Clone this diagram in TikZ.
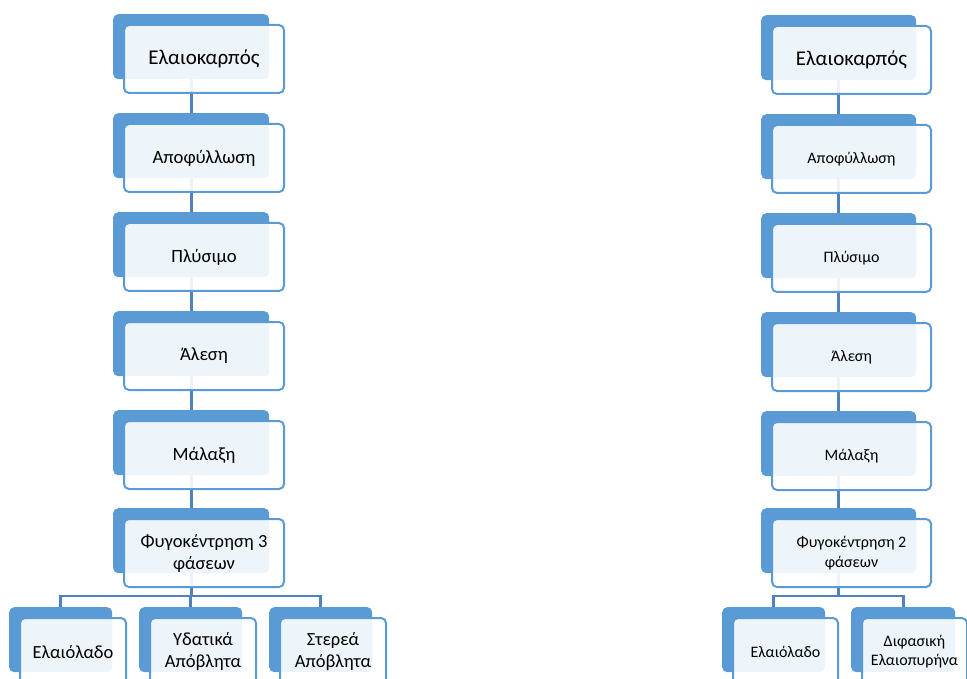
\documentclass[tikz,border=0pt]{standalone}
\usepackage{fontspec}
\setmainfont{Carlito}
\pgfdeclarelayer{back}
\pgfdeclarelayer{lines}
\pgfsetlayers{back,lines,main}
\definecolor{accblue}{RGB}{91,155,213}
\definecolor{connblue}{RGB}{79,129,189}
\tikzset{
  backbox/.style={rectangle, rounded corners=5pt, fill=accblue, draw=none, anchor=north west, minimum height=65pt, inner sep=0pt},
  frontbox/.style={rectangle, rounded corners=5pt, fill=white, fill opacity=0.9, text opacity=1, draw=accblue, draw opacity=1, line width=2pt, anchor=north west, minimum height=68pt, inner sep=0pt, align=center, text=black},
  conn/.style={draw=connblue, line width=2.8pt},
}
% name, back x, back y, back width, front width, font, text
\newcommand\stagebox[7]{%
  \begin{pgfonlayer}{back}
    \node[backbox, minimum width=#4] (#1B) at (#2,#3) {};
  \end{pgfonlayer}
  \node[frontbox, minimum width=#5, font=#6] (#1) at ({#2+10},{#3+10}) {#7};
}
\begin{document}
\begin{tikzpicture}[x=1pt,y=-1pt]
\useasboundingbox (0,0) rectangle (967,679);
\clip (0,0) rectangle (967,679);
% left column
\stagebox{la}{113}{14}{156pt}{160pt}{\fontsize{21}{25}\selectfont}{Ελαιοκαρπός}
\stagebox{lb}{113}{113}{156pt}{160pt}{\fontsize{18.7}{22}\selectfont}{Αποφύλλωση}
\stagebox{lc}{113}{212}{156pt}{160pt}{\fontsize{18.7}{22}\selectfont}{Πλύσιμο}
\stagebox{ld}{113}{311}{156pt}{160pt}{\fontsize{18.7}{22}\selectfont}{Άλεση}
\stagebox{le}{113}{410}{156pt}{160pt}{\fontsize{18.7}{22}\selectfont}{Μάλαξη}
\stagebox{lf}{113}{508}{156pt}{160pt}{\fontsize{18.5}{22}\selectfont}{Φυγοκέντρηση 3\\φάσεων}
\stagebox{lg}{9}{607}{103pt}{106pt}{\fontsize{18.5}{22}\selectfont}{Ελαιόλαδο}
\stagebox{lh}{139}{607}{103pt}{106pt}{\fontsize{18.5}{22}\selectfont}{Υδατικά\\Απόβλητα}
\stagebox{li}{269}{607}{103pt}{106pt}{\fontsize{18.5}{22}\selectfont}{Στερεά\\Απόβλητα}
% right column
\stagebox{ra}{761}{15}{155pt}{159pt}{\fontsize{21}{25}\selectfont}{Ελαιοκαρπός}
\stagebox{rb}{761}{114}{155pt}{159pt}{\fontsize{16}{19}\selectfont}{Αποφύλλωση}
\stagebox{rc}{761}{213}{155pt}{159pt}{\fontsize{16}{19}\selectfont}{Πλύσιμο}
\stagebox{rd}{761}{312}{155pt}{159pt}{\fontsize{16}{19}\selectfont}{Άλεση}
\stagebox{re}{761}{411}{155pt}{159pt}{\fontsize{16}{19}\selectfont}{Μάλαξη}
\stagebox{rf}{761}{508}{155pt}{159pt}{\fontsize{16}{20}\selectfont}{Φυγοκέντρηση 2\\φάσεων}
\stagebox{rg}{722}{607}{103pt}{105pt}{\fontsize{16}{19}\selectfont}{Ελαιόλαδο}
\stagebox{rh}{851}{607}{104pt}{105pt}{\fontsize{16}{19}\selectfont}{Διφασική\\Ελαιοπυρήνα}
% connectors
\coordinate (busy) at (0,596);
\begin{pgfonlayer}{lines}
  \draw[conn] (laB.south) -- (lbB.north);
  \draw[conn] (lbB.south) -- (lcB.north);
  \draw[conn] (lcB.south) -- (ldB.north);
  \draw[conn] (ldB.south) -- (leB.north);
  \draw[conn] (leB.south) -- (lfB.north);
  \draw[conn] (lfB.south) -- (lfB.south |- busy);
  \draw[conn] (lgB.north) -- (lgB.north |- busy) -- (liB.north |- busy) -- (liB.north);
  \draw[conn] (lhB.north) -- (lhB.north |- busy);
  \draw[conn] (raB.south) -- (rbB.north);
  \draw[conn] (rbB.south) -- (rcB.north);
  \draw[conn] (rcB.south) -- (rdB.north);
  \draw[conn] (rdB.south) -- (reB.north);
  \draw[conn] (reB.south) -- (rfB.north);
  \draw[conn] (rfB.south) -- (rfB.south |- busy);
  \draw[conn] (rgB.north) -- (rgB.north |- busy) -- (rhB.north |- busy) -- (rhB.north);
\end{pgfonlayer}
\end{tikzpicture}
\end{document}
